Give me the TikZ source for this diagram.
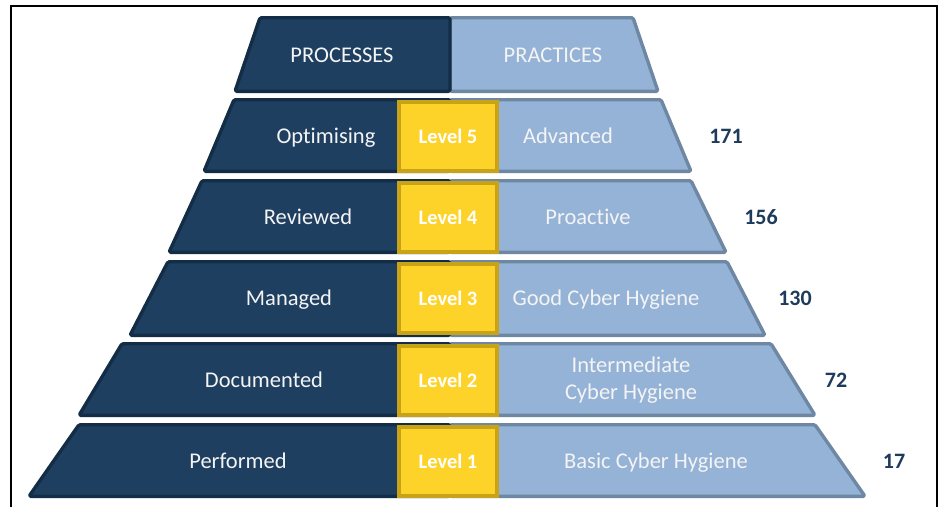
\documentclass[tikz,border=0pt]{standalone}
\usepackage{fontspec}
\setmainfont[RawFeature=-liga]{Carlito}
\definecolor{darkfill}{HTML}{1E3F60}
\definecolor{darkline}{HTML}{132D47}
\definecolor{lightfill}{HTML}{95B3D7}
\definecolor{lightline}{HTML}{6E87A2}
\definecolor{goldfill}{HTML}{FDD329}
\definecolor{goldline}{HTML}{C8A318}
\definecolor{numcol}{HTML}{1F3B5C}
\definecolor{txtcol}{HTML}{F4F4F4}
\newcommand{\tierpair}[6]{%
  \draw[lightpart] (450,#1) -- (#5,#1) -- (#6,#2) -- (450,#2) -- cycle;
  \draw[darkpart] (#3,#1) -- (450,#1) -- (450,#2) -- (#4,#2) -- cycle;
}
\begin{document}
\begin{tikzpicture}[x=1pt,y=-1pt,
  darkpart/.style={fill=darkfill,draw=darkline,line width=3.4pt,rounded corners=1.5pt,line join=round},
  lightpart/.style={fill=lightfill,draw=lightline,line width=3.4pt,rounded corners=1.5pt,line join=round},
  levelbox/.style={fill=goldfill,draw=goldline,line width=4pt,minimum width=98pt,minimum height=69pt,inner sep=0pt,font=\fontsize{20.5}{24}\selectfont\bfseries,text=white},
  ptext/.style={font=\fontsize{22.5}{27}\selectfont,text=txtcol,align=center,inner sep=0pt,anchor=base},
  numtext/.style={font=\fontsize{22}{26}\selectfont\bfseries,text=numcol,inner sep=0pt}]
\useasboundingbox (0,0) rectangle (944,506);
\begin{scope}
\clip (0,0) rectangle (944,506);
\draw[line width=2.5pt,black] (11,520) -- (11,6) -- (937,6) -- (937,520);
\end{scope}
% tiers: ytop ybot xLtop xLbot xRtop xRbot
\tierpair{17.7}{91.3}{260}{235}{633}{658}
\tierpair{99.7}{171.3}{234}{204}{661}{691}
\tierpair{180.7}{252.3}{202}{169}{691}{726}
\tierpair{261.7}{335.3}{168}{130}{727}{765}
\tierpair{343.7}{415.3}{122}{79}{771}{815}
\tierpair{424.7}{496.3}{79}{29}{815}{865}
% header texts
\node[ptext] (proc) at (342,62.5) {PROCESSES};
\node[ptext] (prac) at (553,62.5) {PRACTICES};
% level boxes
\node[levelbox] (l5) at (448,136) {Level 5};
\node[levelbox] (l4) at (448,217) {Level 4};
\node[levelbox] (l3) at (448,298) {Level 3};
\node[levelbox] (l2) at (448,380) {Level 2};
\node[levelbox] (l1) at (448,461) {Level 1};
% process texts
\node[ptext] (p5) at (326,143.5) {Optimising};
\node[ptext] (p4) at (308,224.5) {Reviewed};
\node[ptext] (p3) at (289,305.5) {Managed};
\node[ptext] (p2) at (264,387.5) {Documented};
\node[ptext] (p1) at (238,468.5) {Performed};
% practice texts
\node[ptext] (q5) at (568,143.5) {Advanced};
\node[ptext] (q4) at (588,224.5) {Proactive};
\node[ptext] (q3) at (606,305.5) {Good Cyber Hygiene};
\node[ptext,anchor=center] (q2) at (631,380) {Intermediate\\Cyber Hygiene};
\node[ptext] (q1) at (656,468.5) {Basic Cyber Hygiene};
% numbers
\node[numtext] (n5) at (726,136) {171};
\node[numtext] (n4) at (761,217) {156};
\node[numtext] (n3) at (795,298) {130};
\node[numtext] (n2) at (836,380) {72};
\node[numtext] (n1) at (894,461) {17};
\end{tikzpicture}
\end{document}
